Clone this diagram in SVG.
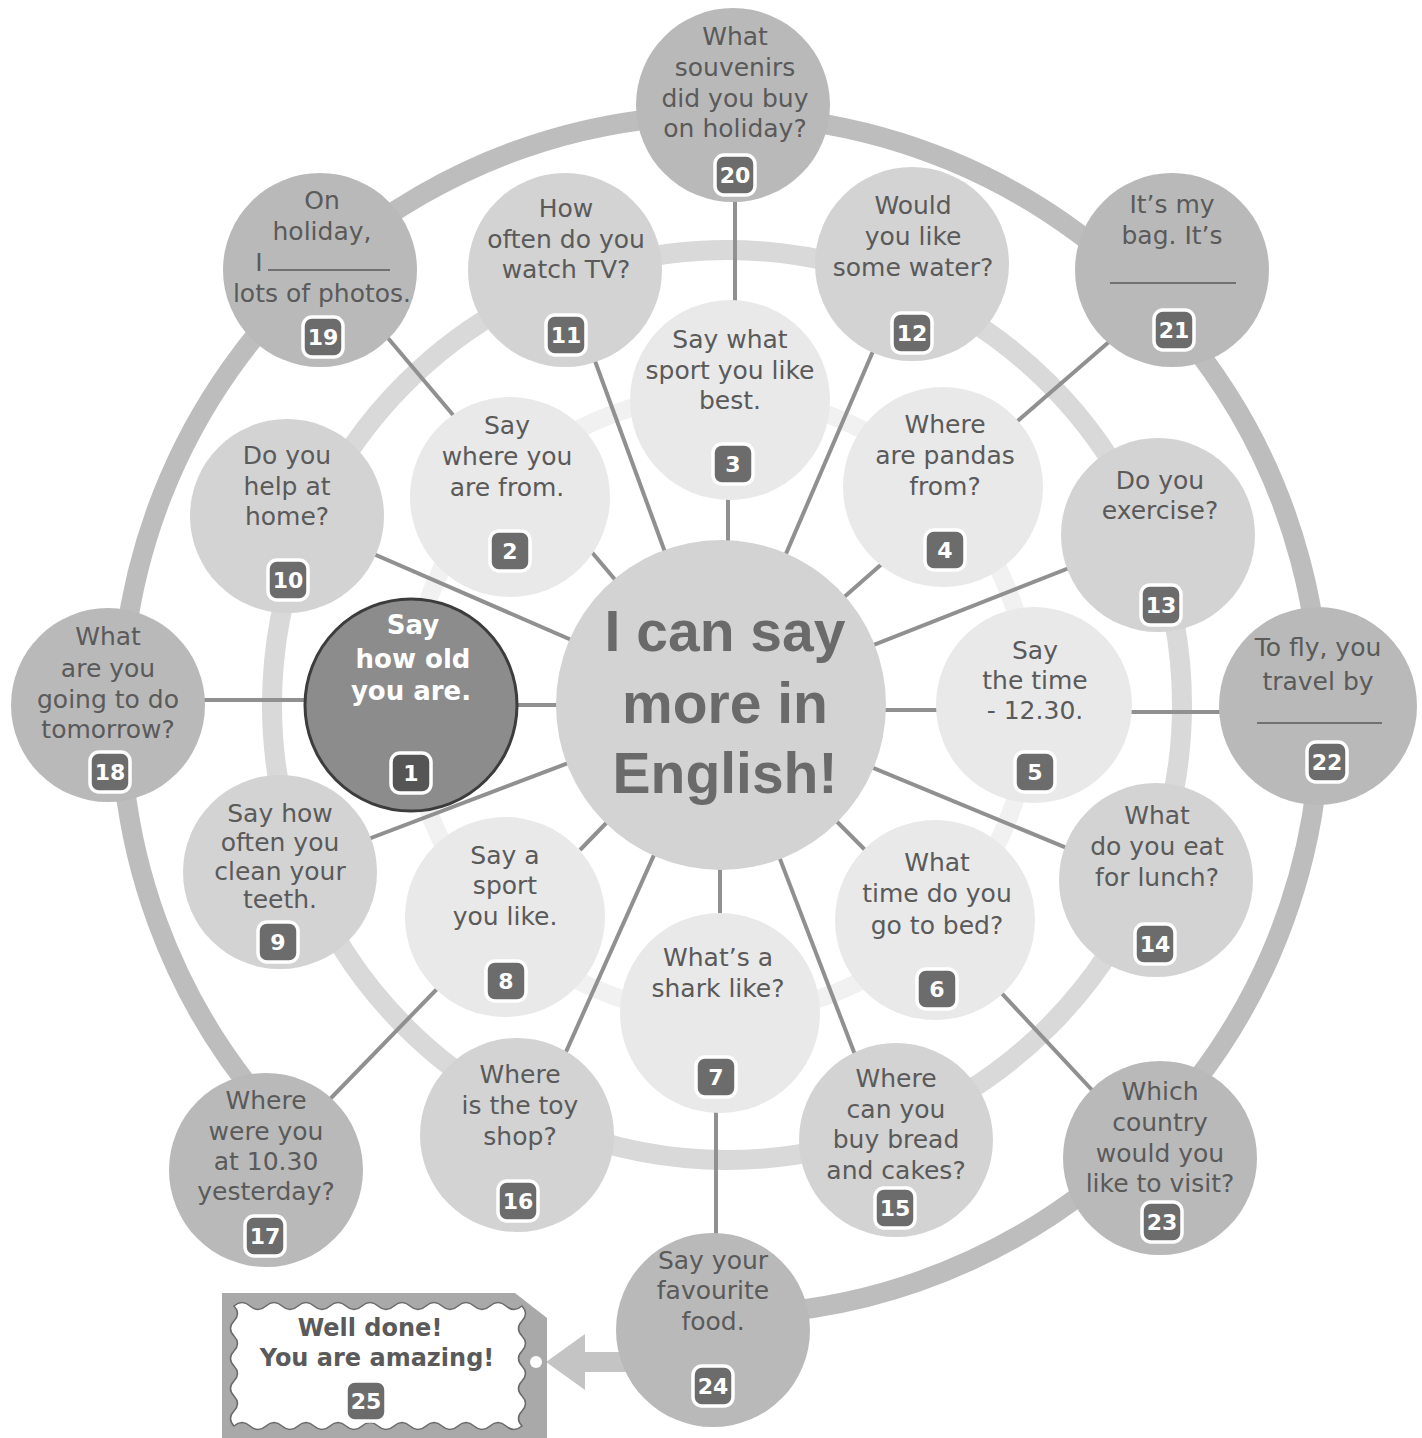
<svg xmlns="http://www.w3.org/2000/svg" width="1422" height="1438" viewBox="0 0 1422 1438">
<style>
.t{font-family:"DejaVu Sans",sans-serif;font-size:25px;fill:#5a5a5a;text-anchor:middle}
.num{font-family:"DejaVu Sans",sans-serif;font-weight:bold;font-size:22px;fill:#fff;text-anchor:middle}
.badge{fill:#6c6c6c;stroke:#fff;stroke-width:3.5}
.in{fill:#e9e9e9}
.mid{fill:#d3d3d3}
.out{fill:#b9b9b9}
.ln{stroke:#909090;stroke-width:4;fill:none}
.blank{stroke:#5a5a5a;stroke-width:1.5}
</style>
<rect width="1422" height="1438" fill="#ffffff"/>
<g id="rings" fill="none">
<circle cx="720" cy="705" r="310" stroke="#f1f1f1" stroke-width="18"/>
<circle cx="727" cy="705" r="455" stroke="#d9d9d9" stroke-width="20"/>
<path d="M296,1139 A600,600 0 1 1 720,1315" stroke="#bdbdbd" stroke-width="20"/>
</g>
<g id="connectors" class="ln">
<line x1="721" y1="705" x2="500" y2="705"/>
<line x1="721" y1="705" x2="590" y2="550"/>
<line x1="728" y1="705" x2="728" y2="495"/>
<line x1="721" y1="705" x2="900" y2="548"/>
<line x1="721" y1="710" x2="945" y2="710"/>
<line x1="721" y1="705" x2="885" y2="870"/>
<line x1="720" y1="705" x2="720" y2="920"/>
<line x1="721" y1="705" x2="580" y2="850"/>
<line x1="721" y1="705" x2="300" y2="522"/>
<line x1="721" y1="705" x2="300" y2="865"/>
<line x1="721" y1="705" x2="580" y2="320"/>
<line x1="721" y1="705" x2="895" y2="300"/>
<line x1="721" y1="705" x2="1120" y2="548"/>
<line x1="721" y1="705" x2="1120" y2="870"/>
<line x1="721" y1="705" x2="880" y2="1120"/>
<line x1="721" y1="705" x2="540" y2="1110"/>
<line x1="150" y1="700" x2="360" y2="700"/>
<line x1="360" y1="305" x2="470" y2="435"/>
<line x1="735" y1="150" x2="735" y2="350"/>
<line x1="1140" y1="315" x2="990" y2="445"/>
<line x1="1000" y1="712" x2="1280" y2="712"/>
<line x1="1120" y1="1120" x2="980" y2="970"/>
<line x1="716" y1="1050" x2="716" y2="1290"/>
<line x1="300" y1="1130" x2="470" y2="955"/>
</g>
<g id="tag25">
<rect x="570" y="1352" width="70" height="20" fill="#c4c4c4"/>
<polygon points="546,1362 585,1334 585,1390" fill="#c4c4c4"/>
<path d="M222,1293 L515,1293 L547,1318 L547,1438 L222,1438 Z" fill="#a9a9a9"/>
<circle cx="536" cy="1362" r="6" fill="#ffffff"/>
<path d="M234,1306 q8,-7 16,0 t16,0 t16,0 t16,0 t16,0 t16,0 t16,0 t16,0 t16,0 t16,0 t16,0 t16,0 t16,0 t16,0 t16,0 t16,0 t16,0 t16,0 q7,7.5 0,15 t0,15 t0,15 t0,15 t0,15 t0,15 t0,15 t0,15 q-8,7 -16,0 t-16,0 t-16,0 t-16,0 t-16,0 t-16,0 t-16,0 t-16,0 t-16,0 t-16,0 t-16,0 t-16,0 t-16,0 t-16,0 t-16,0 t-16,0 t-16,0 t-16,0 q-7,-7.5 0,-15 t0,-15 t0,-15 t0,-15 t0,-15 t0,-15 t0,-15 t0,-15 Z" fill="#ffffff" stroke="#6a6a6a" stroke-width="1.5"/>
<text x="370" y="1336" style="font-family:'DejaVu Sans',sans-serif;font-weight:bold;font-size:24px;fill:#5a5a5a;text-anchor:middle">Well done!</text>
<text x="377" y="1366" style="font-family:'DejaVu Sans',sans-serif;font-weight:bold;font-size:24px;fill:#5a5a5a;text-anchor:middle">You are amazing!</text>
<rect class="badge" x="346" y="1381" width="40" height="40" rx="9"/>
<text class="num" x="366" y="1409">25</text>
</g>
<g id="center">
<circle cx="721" cy="705" r="165" fill="#d3d3d3"/>
<text x="725" y="651" style="font-family:'Liberation Sans',sans-serif;font-weight:bold;font-size:57px;fill:#6a6a6a;text-anchor:middle">I can say</text>
<text x="725" y="723" style="font-family:'Liberation Sans',sans-serif;font-weight:bold;font-size:57px;fill:#6a6a6a;text-anchor:middle">more in</text>
<text x="725" y="793" style="font-family:'Liberation Sans',sans-serif;font-weight:bold;font-size:57px;fill:#6a6a6a;text-anchor:middle">English!</text>
</g>
<g id="n1">
<circle cx="411" cy="705" r="106" fill="#8c8c8c" stroke="#3c3c3c" stroke-width="3"/>
<text x="413" y="634" style="font-family:'DejaVu Sans',sans-serif;font-weight:bold;font-size:26px;fill:#ffffff;text-anchor:middle">Say</text>
<text x="413" y="668" style="font-family:'DejaVu Sans',sans-serif;font-weight:bold;font-size:26px;fill:#ffffff;text-anchor:middle">how old</text>
<text x="411" y="700" style="font-family:'DejaVu Sans',sans-serif;font-weight:bold;font-size:26px;fill:#ffffff;text-anchor:middle">you are.</text>
<rect class="badge" x="391" y="753" width="40" height="40" rx="9" style="fill:#555555"/>
<text class="num" x="411" y="781">1</text>
</g>
<g id="n2">
<circle class="in" cx="510" cy="497" r="100"/>
<text class="t" x="507" y="434">Say</text>
<text class="t" x="507" y="465">where you</text>
<text class="t" x="507" y="496">are from.</text>
<rect class="badge" x="490" y="531" width="40" height="40" rx="9"/>
<text class="num" x="510" y="559">2</text>
</g>
<g id="n3">
<circle class="in" cx="730" cy="400" r="100"/>
<text class="t" x="730" y="348">Say what</text>
<text class="t" x="730" y="379">sport you like</text>
<text class="t" x="730" y="409">best.</text>
<rect class="badge" x="713" y="444" width="40" height="40" rx="9"/>
<text class="num" x="733" y="472">3</text>
</g>
<g id="n4">
<circle class="in" cx="943" cy="487" r="100"/>
<text class="t" x="945" y="433">Where</text>
<text class="t" x="945" y="464">are pandas</text>
<text class="t" x="945" y="495">from?</text>
<rect class="badge" x="925" y="530" width="40" height="40" rx="9"/>
<text class="num" x="945" y="558">4</text>
</g>
<g id="n5">
<circle class="in" cx="1034" cy="705" r="98"/>
<text class="t" x="1035" y="659">Say</text>
<text class="t" x="1035" y="689">the time</text>
<text class="t" x="1035" y="719">- 12.30.</text>
<rect class="badge" x="1015" y="752" width="40" height="40" rx="9"/>
<text class="num" x="1035" y="780">5</text>
</g>
<g id="n6">
<circle class="in" cx="935" cy="920" r="100"/>
<text class="t" x="937" y="871">What</text>
<text class="t" x="937" y="902">time do you</text>
<text class="t" x="937" y="934">go to bed?</text>
<rect class="badge" x="917" y="969" width="40" height="40" rx="9"/>
<text class="num" x="937" y="997">6</text>
</g>
<g id="n7">
<circle class="in" cx="720" cy="1013" r="100"/>
<text class="t" x="718" y="966">What’s a</text>
<text class="t" x="718" y="997">shark like?</text>
<rect class="badge" x="696" y="1057" width="40" height="40" rx="9"/>
<text class="num" x="716" y="1085">7</text>
</g>
<g id="n8">
<circle class="in" cx="505" cy="917" r="100"/>
<text class="t" x="505" y="864">Say a</text>
<text class="t" x="505" y="894">sport</text>
<text class="t" x="505" y="925">you like.</text>
<rect class="badge" x="486" y="961" width="40" height="40" rx="9"/>
<text class="num" x="506" y="989">8</text>
</g>
<g id="n9">
<circle class="mid" cx="280" cy="872" r="97"/>
<text class="t" x="280" y="822">Say how</text>
<text class="t" x="280" y="851">often you</text>
<text class="t" x="280" y="880">clean your</text>
<text class="t" x="280" y="908">teeth.</text>
<rect class="badge" x="258" y="922" width="40" height="40" rx="9"/>
<text class="num" x="278" y="950">9</text>
</g>
<g id="n10">
<circle class="mid" cx="287" cy="516" r="97"/>
<text class="t" x="287" y="464">Do you</text>
<text class="t" x="287" y="495">help at</text>
<text class="t" x="287" y="525">home?</text>
<rect class="badge" x="268" y="560" width="40" height="40" rx="9"/>
<text class="num" x="288" y="588">10</text>
</g>
<g id="n11">
<circle class="mid" cx="565" cy="270" r="97"/>
<text class="t" x="566" y="217">How</text>
<text class="t" x="566" y="248">often do you</text>
<text class="t" x="566" y="278">watch TV?</text>
<rect class="badge" x="546" y="315" width="40" height="40" rx="9"/>
<text class="num" x="566" y="343">11</text>
</g>
<g id="n12">
<circle class="mid" cx="912" cy="264" r="97"/>
<text class="t" x="913" y="214">Would</text>
<text class="t" x="913" y="245">you like</text>
<text class="t" x="913" y="276">some water?</text>
<rect class="badge" x="892" y="313" width="40" height="40" rx="9"/>
<text class="num" x="912" y="341">12</text>
</g>
<g id="n13">
<circle class="mid" cx="1158" cy="535" r="97"/>
<text class="t" x="1160" y="489">Do you</text>
<text class="t" x="1160" y="519">exercise?</text>
<rect class="badge" x="1141" y="585" width="40" height="40" rx="9"/>
<text class="num" x="1161" y="613">13</text>
</g>
<g id="n14">
<circle class="mid" cx="1156" cy="880" r="97"/>
<text class="t" x="1157" y="824">What</text>
<text class="t" x="1157" y="855">do you eat</text>
<text class="t" x="1157" y="886">for lunch?</text>
<rect class="badge" x="1135" y="924" width="40" height="40" rx="9"/>
<text class="num" x="1155" y="952">14</text>
</g>
<g id="n15">
<circle class="mid" cx="896" cy="1140" r="97"/>
<text class="t" x="896" y="1087">Where</text>
<text class="t" x="896" y="1118">can you</text>
<text class="t" x="896" y="1148">buy bread</text>
<text class="t" x="896" y="1179">and cakes?</text>
<rect class="badge" x="875" y="1188" width="40" height="40" rx="9"/>
<text class="num" x="895" y="1216">15</text>
</g>
<g id="n16">
<circle class="mid" cx="517" cy="1135" r="97"/>
<text class="t" x="520" y="1083">Where</text>
<text class="t" x="520" y="1114">is the toy</text>
<text class="t" x="520" y="1145">shop?</text>
<rect class="badge" x="498" y="1181" width="40" height="40" rx="9"/>
<text class="num" x="518" y="1209">16</text>
</g>
<g id="n17">
<circle class="out" cx="266" cy="1170" r="97"/>
<text class="t" x="266" y="1109">Where</text>
<text class="t" x="266" y="1140">were you</text>
<text class="t" x="266" y="1170">at 10.30</text>
<text class="t" x="266" y="1200">yesterday?</text>
<rect class="badge" x="245" y="1216" width="40" height="40" rx="9"/>
<text class="num" x="265" y="1244">17</text>
</g>
<g id="n18">
<circle class="out" cx="108" cy="705" r="97"/>
<text class="t" x="108" y="645">What</text>
<text class="t" x="108" y="677">are you</text>
<text class="t" x="108" y="708">going to do</text>
<text class="t" x="108" y="738">tomorrow?</text>
<rect class="badge" x="90" y="752" width="40" height="40" rx="9"/>
<text class="num" x="110" y="780">18</text>
</g>
<g id="n19">
<circle class="out" cx="320" cy="270" r="97"/>
<text class="t" x="322" y="209">On</text>
<text class="t" x="322" y="240">holiday,</text>
<text class="t" x="259" y="271">I</text>
<line class="blank" x1="268" y1="270" x2="390" y2="270"/>
<text class="t" x="322" y="302">lots of photos.</text>
<rect class="badge" x="303" y="317" width="40" height="40" rx="9"/>
<text class="num" x="323" y="345">19</text>
</g>
<g id="n20">
<circle class="out" cx="733" cy="105" r="97"/>
<text class="t" x="735" y="45">What</text>
<text class="t" x="735" y="76">souvenirs</text>
<text class="t" x="735" y="107">did you buy</text>
<text class="t" x="735" y="137">on holiday?</text>
<rect class="badge" x="715" y="155" width="40" height="40" rx="9"/>
<text class="num" x="735" y="183">20</text>
</g>
<g id="n21">
<circle class="out" cx="1172" cy="270" r="97"/>
<text class="t" x="1172" y="213">It’s my</text>
<text class="t" x="1172" y="244">bag. It’s</text>
<line class="blank" x1="1110" y1="283" x2="1236" y2="283"/>
<rect class="badge" x="1154" y="310" width="40" height="40" rx="9"/>
<text class="num" x="1174" y="338">21</text>
</g>
<g id="n22">
<circle class="out" cx="1318" cy="706" r="99"/>
<text class="t" x="1318" y="656">To fly, you</text>
<text class="t" x="1318" y="690">travel by</text>
<line class="blank" x1="1257" y1="723" x2="1382" y2="723"/>
<rect class="badge" x="1307" y="742" width="40" height="40" rx="9"/>
<text class="num" x="1327" y="770">22</text>
</g>
<g id="n23">
<circle class="out" cx="1160" cy="1158" r="97"/>
<text class="t" x="1160" y="1100">Which</text>
<text class="t" x="1160" y="1131">country</text>
<text class="t" x="1160" y="1162">would you</text>
<text class="t" x="1160" y="1192">like to visit?</text>
<rect class="badge" x="1142" y="1202" width="40" height="40" rx="9"/>
<text class="num" x="1162" y="1230">23</text>
</g>
<g id="n24">
<circle class="out" cx="713" cy="1330" r="97"/>
<text class="t" x="713" y="1269">Say your</text>
<text class="t" x="713" y="1299">favourite</text>
<text class="t" x="713" y="1330">food.</text>
<rect class="badge" x="693" y="1366" width="40" height="40" rx="9"/>
<text class="num" x="713" y="1394">24</text>
</g>
</svg>
